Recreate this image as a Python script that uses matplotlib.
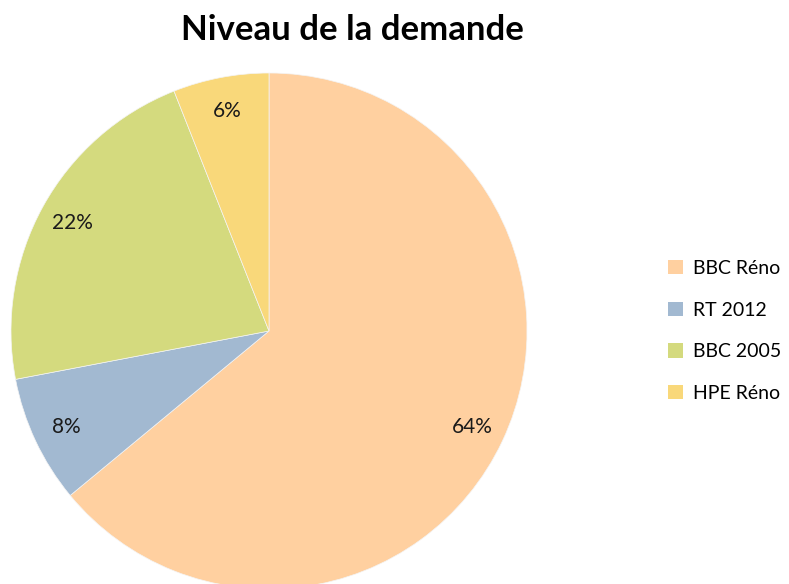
import matplotlib.pyplot as plt
from matplotlib.patches import Patch
import numpy as np

# ── Data ─────────────────────────────────────────────────────────────────────
labels = ["BBC Réno", "RT 2012", "BBC 2005", "HPE Réno"]
values = [64, 8, 22, 6]
colors = ["#FFD0A0", "#A2B9D1", "#D4DA7E", "#F9D87A"]

plt.rcParams["font.family"] = ["Lato", "DejaVu Sans"]

fig = plt.figure(figsize=(7.89, 5.84), dpi=100)
fig.patch.set_facecolor("white")

# pie centre ~ (269, 331) px, radius ~ 258 px
W, H = 789, 584
cx, cy, r = 269, 331, 258
ax = fig.add_axes([(cx - r) / W, (H - cy - r) / H, 2 * r / W, 2 * r / H])

wedges = ax.pie(
    values,
    colors=colors,
    startangle=90,
    counterclock=False,
    wedgeprops=dict(linewidth=0.5, edgecolor="#f4f4f4"),
)[0]

for w, v in zip(wedges, values):
    ang = np.deg2rad((w.theta1 + w.theta2) / 2)
    ax.text(0.87 * np.cos(ang), 0.87 * np.sin(ang), f"{v}%",
            ha="center", va="center", fontsize=15, color="#1a1a1a")

ax.set_xlim(-1, 1)
ax.set_ylim(-1, 1)
ax.set_aspect("equal")
ax.axis("off")

fig.text(352 / W, 1 - 30 / H, "Niveau de la demande", ha="center", va="center",
         fontsize=25, fontweight="bold")

handles = [Patch(facecolor=c, edgecolor="none") for c in colors]
fig.legend(
    handles, labels,
    loc="center left",
    bbox_to_anchor=(668 / W, 1 - 331 / H),
    frameon=False,
    fontsize=14,
    handlelength=0.75,
    handleheight=0.75,
    handletextpad=0.55,
    labelspacing=1.27,
    borderpad=0,
    borderaxespad=0,
)

fig.savefig("out.png", dpi=100, facecolor="white")
